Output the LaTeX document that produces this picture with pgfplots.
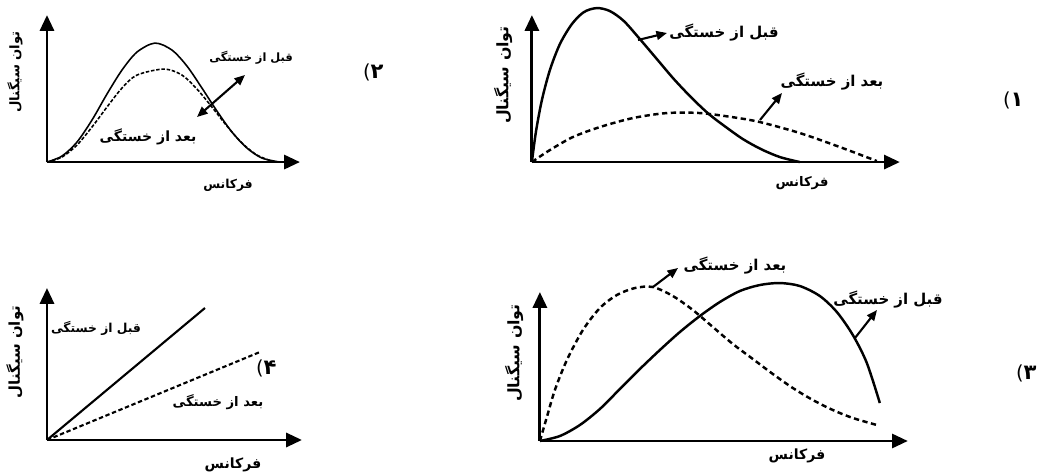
\documentclass[border=0pt]{standalone}
\usepackage{fontspec}
\setmainfont{DejaVu Sans}
\newfontfamily\fa[Script=Arabic]{DejaVu Sans}
\TeXXeTstate=1
\usepackage{pgfplots}
\pgfplotsset{compat=1.18}
\usetikzlibrary{arrows.meta}

\newcommand\fat[1]{{\fa\bfseries\beginR #1\endR}}
\newcommand\fs[1]{\fontsize{#1}{#1}\selectfont}
% option number: "(" left of a Persian digit
\newcommand\opt[3]{%
  \node[font=\fs{11}, inner sep=0pt] at (#1-5,#2) {(};
  \node[font=\fs{12}, inner sep=0pt] at (#1+5,#2) {\fa\bfseries #3};}

\pgfplotsset{
  sk/.style={scale only axis, axis lines=left, xmin=0, ymin=0,
    xtick=\empty, ytick=\empty, clip=false, anchor=south west,
    axis line style={line width=1.6pt, -{Triangle[length=9pt,width=8pt]}}},
  solidc/.style={black, line width=1.4pt, smooth, no markers},
  dashc/.style={black, line width=1.4pt, dash pattern=on 3pt off 2pt, smooth, no markers},
}

\begin{document}
\begin{tikzpicture}[x=0.02cm, y=0.02cm]
\path[use as bounding box] (0,0) rectangle (1038,472);

% (1) top right
\begin{axis}[sk, at={(10.64cm,6.20cm)}, width=7.36cm, height=2.94cm, xmax=368, ymax=147]
\addplot[solidc] coordinates {
  (0,0)(4,30)(10,62)(18,92)(28,118)(40,138)(52,150)(65,154)(78,151)(92,141)
  (108,123)(125,103)(142,83)(160,64)(177,48)(194,35)(211,23)(229,13)(248,5)(268,0)};
\addplot[dashc] coordinates {
  (0,0)(18,12)(41,25)(68,35)(101,44)(135,49)(168,49)(200,45)(228,40)(268,29)(308,15)(345,1)};
\end{axis}

% (2) top left
\begin{axis}[sk, at={(0.94cm,6.20cm)}, width=5.06cm, height=2.94cm, xmax=253, ymax=147]
\addplot[solidc, line width=0.9pt] coordinates {
  (0,0)(15,6)(30,20)(45,42)(60,68)(75,92)(90,110)(108,119)(125,112)(140,96)
  (155,74)(170,51)(185,30)(200,14)(215,4)(233,0)};
\addplot[dashc, line width=0.9pt, dash pattern=on 2pt off 1pt] coordinates {
  (0,0)(15,5)(30,17)(45,35)(60,55)(75,74)(90,87)(117,93)(135,87)(150,73)
  (165,55)(180,36)(195,19)(210,7)(225,1)(233,0)};
\end{axis}

% (3) bottom right
\begin{axis}[sk, at={(10.80cm,0.62cm)}, width=7.36cm, height=2.98cm, xmax=368, ymax=149]
\addplot[solidc] coordinates {
  (0,0)(20,5)(40,16)(60,32)(80,52)(100,72)(120,91)(140,109)(160,125)(180,139)
  (200,150)(220,156)(240,158)(260,155)(280,145)(297,129)(313,106)(327,78)(340,38)};
\addplot[dashc] coordinates {
  (0,0)(7,24)(15,51)(27,81)(43,111)(60,133)(77,146)(95,153)(113,154)(133,145)
  (153,131)(173,114)(193,97)(213,82)(233,67)(253,53)(273,41)(293,31)(313,23)(337,16)};
\end{axis}

% (4) bottom left
\begin{axis}[sk, at={(0.94cm,0.64cm)}, width=5.10cm, height=3.04cm, xmax=255, ymax=152]
\addplot[solidc, smooth=false, line width=1.2pt] coordinates {(0,0)(158,132)};
\addplot[dashc, smooth=false, line width=1.2pt, dash pattern=on 2.5pt off 1.5pt] coordinates {(0,0)(213,88)};
\end{axis}

% arrows
\begin{scope}[line width=1.2pt, -{Triangle[length=6pt,width=5pt]}]
\draw (638,432) -- (667,439);
\draw (760,352) -- (782,379);
\draw[{Triangle[length=6pt,width=5pt]}-{Triangle[length=6pt,width=5pt]}] (197,355) -- (245,397);
\draw (653,185) -- (678,204);
\draw (855,134) -- (877,162);
\end{scope}

% texts
\begin{scope}[inner sep=0pt]
\node[font=\fs{8.5}] at (724,439) {\fat{قبل از خستگی}};
\node[font=\fs{8.5}] at (832,390) {\fat{بعد از خستگی}};
\node[font=\fs{9}, rotate=90] at (503,397) {\fat{توان سیگنال}};
\node[font=\fs{7.5}] at (802,289) {\fat{فرکانس}};

\node[font=\fs{8.5}] at (735,206) {\fat{بعد از خستگی}};
\node[font=\fs{8.5}] at (888,172) {\fat{قبل از خستگی}};
\node[font=\fs{9}, rotate=90] at (514,119) {\fat{توان سیگنال}};
\node[font=\fs{8}] at (797,16) {\fat{فرکانس}};

\node[font=\fs{6.5}] at (251,414) {\fat{قبل از خستگی}};
\node[font=\fs{8}] at (148,335) {\fat{بعد از خستگی}};
\node[font=\fs{7.5}, rotate=90] at (15,400) {\fat{توان سیگنال}};
\node[font=\fs{7}] at (228,287) {\fat{فرکانس}};

\node[font=\fs{7}] at (96,144) {\fat{قبل از خستگی}};
\node[font=\fs{7.5}] at (218,70) {\fat{بعد از خستگی}};
\node[font=\fs{8.5}, rotate=90] at (15,120) {\fat{توان سیگنال}};
\node[font=\fs{8}] at (233,7) {\fat{فرکانس}};
\end{scope}

\opt{1012}{372}{۱}
\opt{372}{400}{۲}
\opt{1025}{99}{۳}
\opt{265}{104}{۴}
\end{tikzpicture}
\end{document}
